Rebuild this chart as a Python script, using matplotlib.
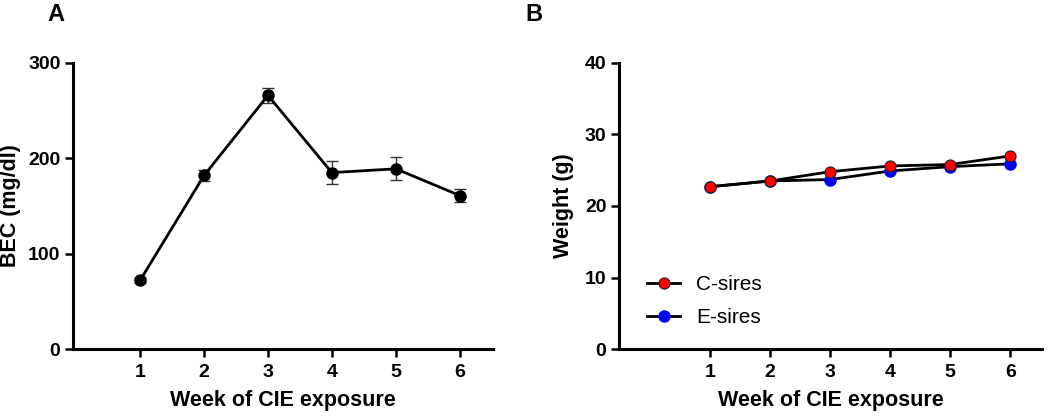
import numpy as np
import matplotlib
matplotlib.use("Agg")
import matplotlib.pyplot as plt

plt.rcParams['font.family'] = ['Liberation Sans', 'DejaVu Sans']

# Panel A: blood ethanol concentration
weeks = [1, 2, 3, 4, 5, 6]
bec = [72, 182, 266, 185, 189, 161]
bec_err = [3, 6, 8, 12, 12, 7]

# Panel B: body weight of sires
c_sires = [22.7, 23.5, 24.8, 25.6, 25.8, 27.0]
e_sires = [22.7, 23.5, 23.7, 24.9, 25.5, 25.9]

fig = plt.figure(figsize=(10.5, 4.17), dpi=100)
axA = fig.add_axes([0.0695, 0.163, 0.40, 0.686])
axB = fig.add_axes([0.5895, 0.163, 0.403, 0.686])


def style(ax):
    for s in ['top', 'right']:
        ax.spines[s].set_visible(False)
    for s in ['left', 'bottom']:
        ax.spines[s].set_linewidth(2.2)
    ax.tick_params(width=1.8, length=6, labelsize=14, direction='out', pad=3)
    ax.tick_params(axis='x', pad=5)
    for lbl in ax.get_xticklabels() + ax.get_yticklabels():
        lbl.set_fontweight('bold')
    ax.set_xlabel("Week of CIE exposure", fontsize=15.5, fontweight='bold',
                  labelpad=6)


axA.errorbar(weeks, bec, yerr=bec_err, color='black', lw=2, marker='o',
             markersize=8, ecolor='#333333', elinewidth=1, capsize=4.5,
             capthick=1)
axA.set_xlim(-0.05, 6.52)
axA.set_ylim(0, 300)
axA.set_xticks(weeks)
axA.set_yticks([0, 100, 200, 300])
axA.set_ylabel("BEC (mg/dl)", fontsize=15.5, fontweight='bold')
axA.yaxis.set_label_coords(-0.124, 0.5)
style(axA)

axB.plot(weeks, e_sires, color='black', lw=2, marker='o', markersize=8,
         markerfacecolor='#0000ff', markeredgecolor='#0000ff', label='E-sires',
         zorder=3)
axB.plot(weeks, c_sires, color='black', lw=2, marker='o', markersize=8,
         markerfacecolor='#ff0000', markeredgecolor='#222222',
         markeredgewidth=0.8, label='C-sires', zorder=4)
axB.set_xlim(-0.52, 6.53)
axB.set_ylim(0, 40)
axB.set_xticks(weeks)
axB.set_yticks([0, 10, 20, 30, 40])
axB.set_ylabel("Weight (g)", fontsize=15.5, fontweight='bold')
axB.yaxis.set_label_coords(-0.107, 0.5)
style(axB)
h, l = axB.get_legend_handles_labels()
axB.legend(h[::-1], l[::-1], loc='lower left', bbox_to_anchor=(0.022, 0.01),
           frameon=False, fontsize=15, handlelength=1.6, labelspacing=0.7,
           handletextpad=0.75)

fig.text(0.045, 0.966, "A", fontsize=17, fontweight='bold', va='center')
fig.text(0.5, 0.966, "B", fontsize=17, fontweight='bold', va='center')

fig.savefig("out.png", dpi=100)
